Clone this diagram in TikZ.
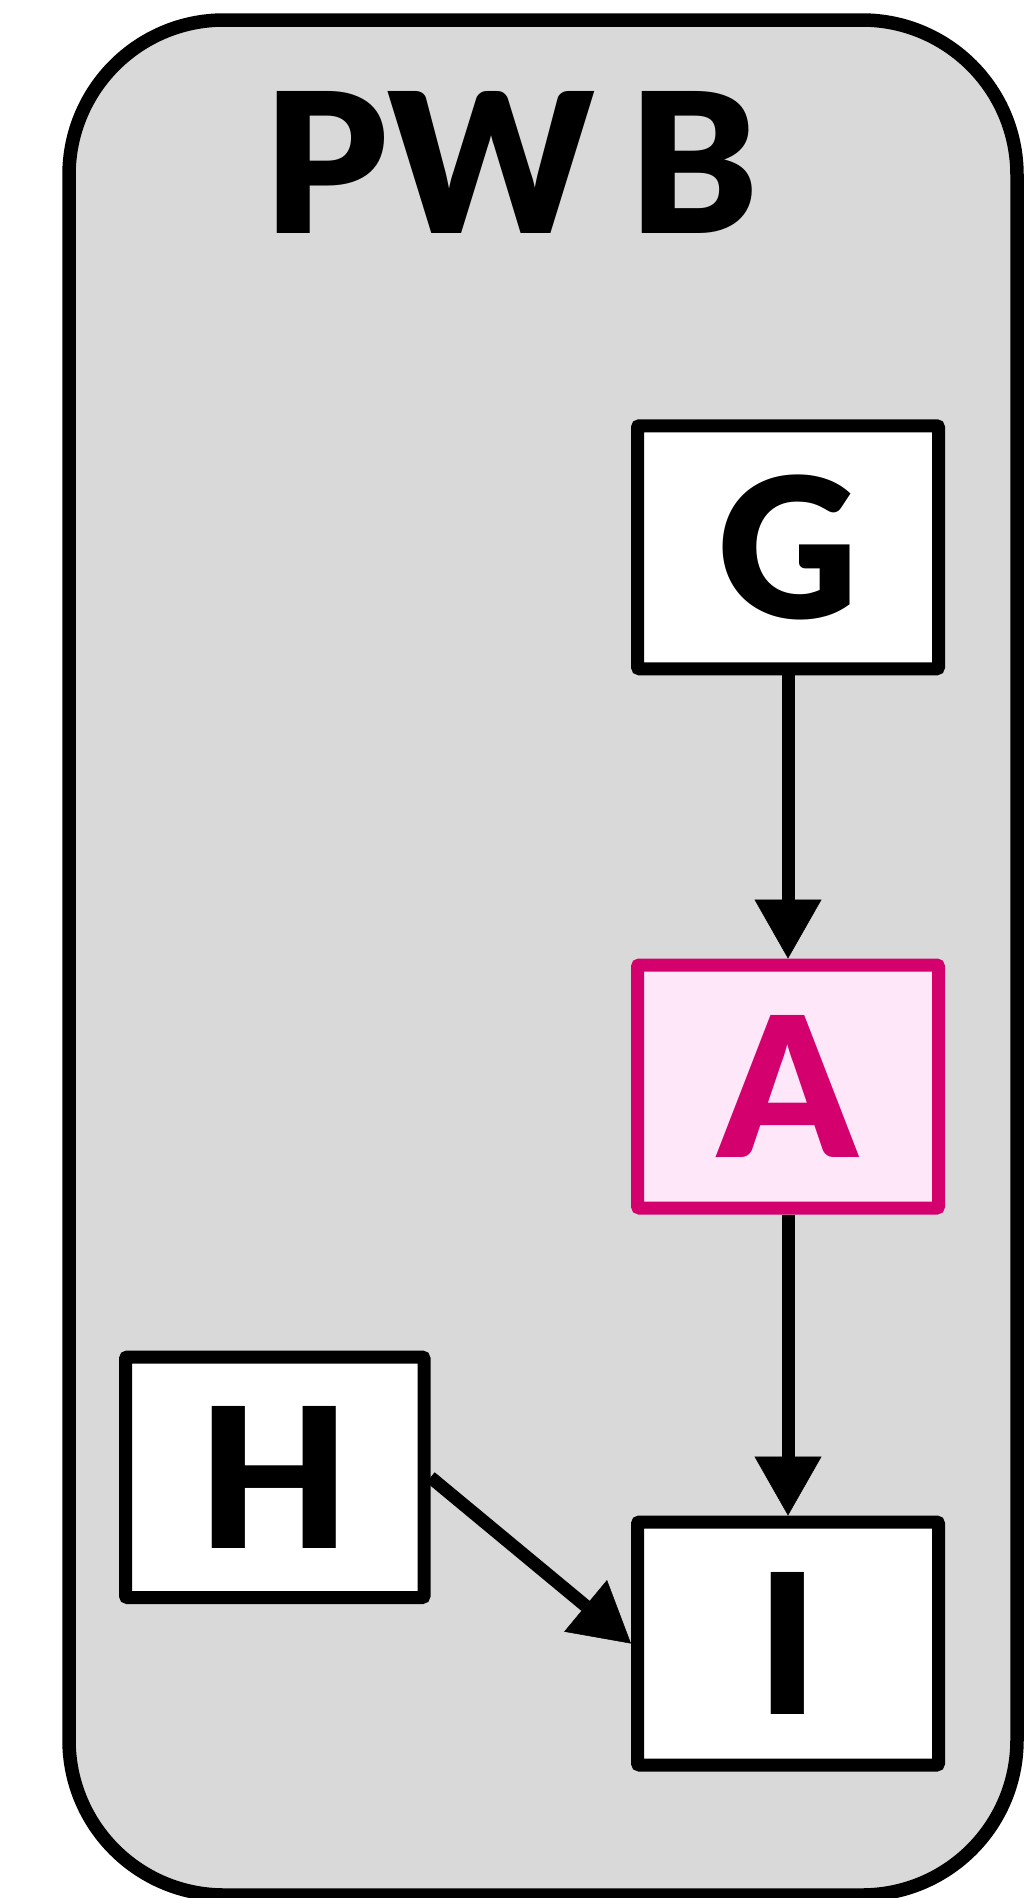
\documentclass[tikz,border=0pt]{standalone}
\usepackage{fontspec}
\setmainfont{Lato}
\IfFontExistsTF{Lato Black}{\newfontfamily\heavyfont{Lato Black}}{\newfontfamily\heavyfont{Lato}[UprightFont=*-Bold]}
\usetikzlibrary{arrows.meta}
\definecolor{clustergray}{HTML}{D9D9D9}
\definecolor{pinkline}{HTML}{D3006E}
\definecolor{pinkfill}{HTML}{FDE7F9}
\tikzset{
  x=1pt, y=-1pt,
  bigtext/.style={font=\heavyfont\fontsize{195}{195}\selectfont},
  graybox/.style={draw=black, line width=13pt, fill=white, rounded corners=2pt,
    minimum width=301pt, minimum height=243pt, inner sep=0pt, bigtext},
  pinkbox/.style={graybox, draw=pinkline, fill=pinkfill, text=pinkline},
  edgearrow/.style={draw=black, line width=13pt,
    -{Triangle[length=59pt,width=67pt,line width=0.5pt]}},
}
\begin{document}
\begin{tikzpicture}
\useasboundingbox (0,0) rectangle (1024,1898);
\draw[line width=13.5pt, fill=clustergray, rounded corners=155pt] (69,20) rectangle (1017,1895);
\node[bigtext, anchor=center] (title) at (511,162) {PW\hspace{-12pt} B};
\node[graybox] (G) at (788,547.25) {G};
\node[pinkbox] (A) at (788,1086.5) {A};
\node[graybox, minimum width=298.5pt, minimum height=240.5pt] (H) at (274.75,1477.25) {H};
\node[graybox] (I) at (788,1643.5) {I};
\draw[edgearrow] (G) -- (A);
\draw[edgearrow] (A) -- (I);
\draw[edgearrow] (H.east) -- (I.west);
\end{tikzpicture}
\end{document}
